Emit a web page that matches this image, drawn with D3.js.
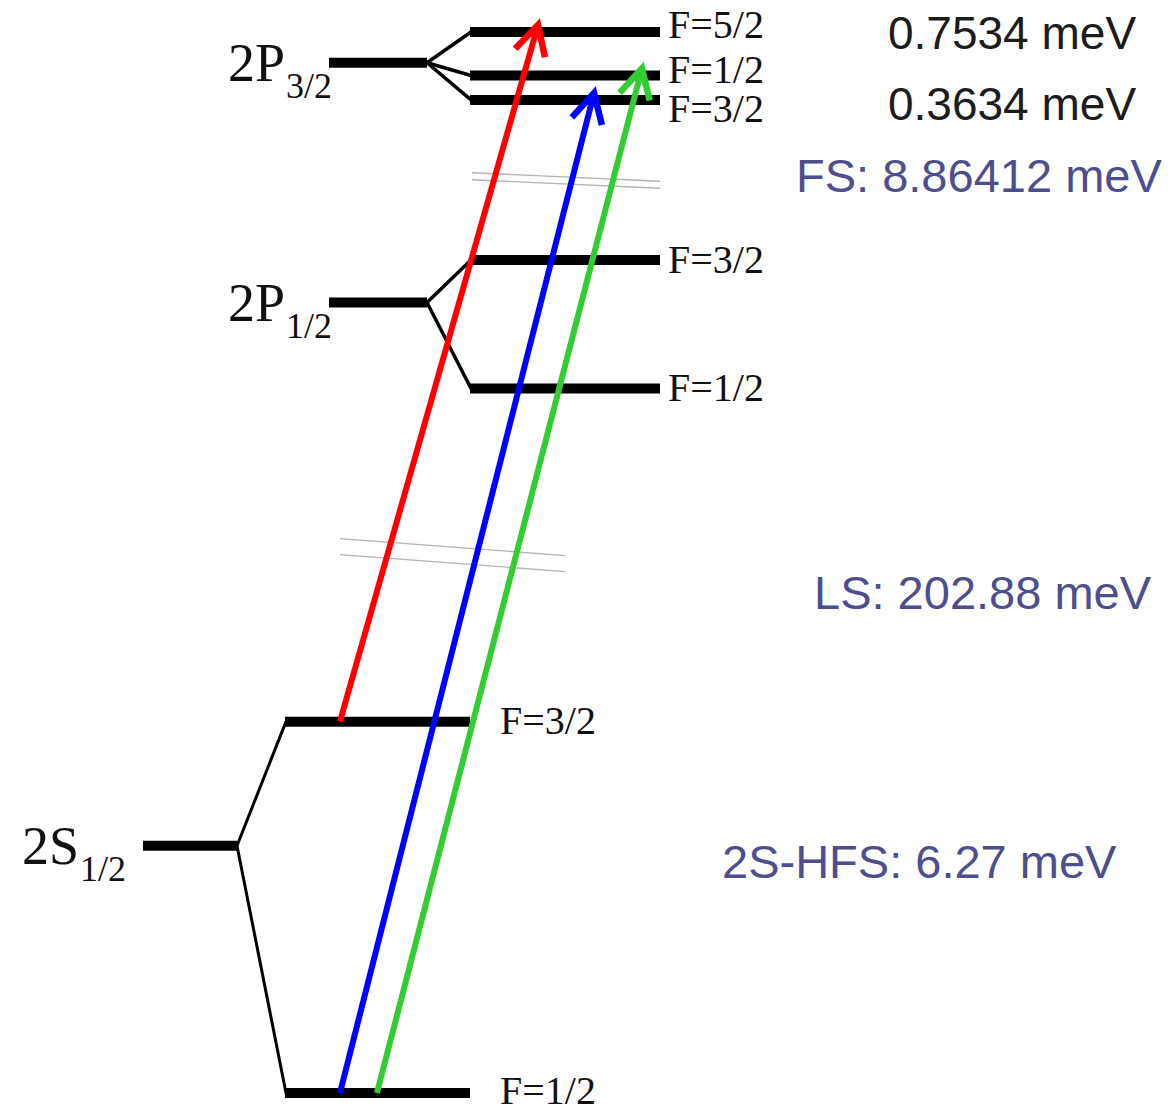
<!DOCTYPE html>
<html>
<head>
<meta charset="utf-8">
<script src="https://cdn.jsdelivr.net/npm/d3@7"></script>
<style>
  html, body { margin: 0; padding: 0; background: #fff; }
  svg { display: block; }
</style>
</head>
<body>
<div id="chart"></div>
<script>
// n = 2 level scheme, heights in schematic diagram units (axis broken twice, not to scale)
const manifolds     = ["2S1/2", "2P1/2", "2P3/2"];
const manifoldTerm  = ["2S", "2P", "2P"];
const manifoldJ     = ["1/2", "1/2", "3/2"];
const manifoldLevel = [233, 745, 971];

// hyperfine sublevels
const hfsManifold = ["2S1/2", "2S1/2", "2P1/2", "2P1/2", "2P3/2", "2P3/2", "2P3/2"];
const hfsF        = ["1/2",   "3/2",   "1/2",   "3/2",   "3/2",   "1/2",   "5/2"];
const hfsLevel    = [0, 350, 664, 785, 936, 959, 1000];

// laser transitions: index of lower sublevel -> index of upper sublevel
const transitionFrom  = [1, 0, 0];
const transitionTo    = [6, 4, 5];
const transitionColor = ["#ff0000", "#0000ff", "#33cc33"];

// splitting annotations
const splitText  = ["0.7534 meV", "0.3634 meV", "FS: 8.86412 meV", "LS: 202.88 meV", "2S-HFS: 6.27 meV"];
const splitColor = ["#1c1c1c", "#1c1c1c", "#4d4d8f", "#4d4d8f", "#4d4d8f"];

// axis breaks, in diagram units
const breakLevel = [860, 507];

// ---------------- layout ----------------
const W = 1168, H = 1112;
const y = d3.scaleLinear().domain([0, 1000]).range([1093, 32]);

const layout = {
  "2S1/2": { labelX: 22,  main: [143, 237], sub: [285, 470], fGap: 30, branchW: 3 },
  "2P1/2": { labelX: 228, main: [329, 427], sub: [470, 660], fGap: 8,  branchW: 3.5 },
  "2P3/2": { labelX: 228, main: [329, 427], sub: [470, 660], fGap: 8,  branchW: 3.5 }
};
// baseline offset of each F label from its level
const fLabelDy = [11, 12, 13, 13, 22.5, 7, 6];
// where each arrow sits along its lower / upper sublevel (fraction of the bar)
const arrowStart = [0.297, 0.297, 0.497];
const arrowEnd   = [0.358, 0.653, 0.905];
const splitPos   = [[888, 49, 46], [888, 120, 46], [796, 192, 47], [814, 609, 47], [722, 878, 47]];
const breakSpec  = [
  { x: [472, 660], tilt: 8.5, gap: 7 },
  { x: [340, 565], tilt: 17,  gap: 16 }
];

const serif = "'Liberation Serif', 'Times New Roman', serif";
const sans  = "'Liberation Sans', Arial, Helvetica, sans-serif";

const svg = d3.select("#chart").append("svg")
  .attr("width", W).attr("height", H)
  .attr("viewBox", `0 0 ${W} ${H}`);

svg.append("rect").attr("width", W).attr("height", H).attr("fill", "#fff");

// ----- axis-break marks (thin grey double lines) -----
const gBreak = svg.append("g").attr("stroke", "#b4b4b4").attr("stroke-width", 1.4).attr("fill", "none");
breakLevel.forEach((lv, i) => {
  const s = breakSpec[i], yc = y(lv);
  [-1, 1].forEach(side => {
    gBreak.append("line")
      .attr("x1", s.x[0]).attr("y1", yc - s.tilt / 2 + side * s.gap / 2)
      .attr("x2", s.x[1]).attr("y2", yc + s.tilt / 2 + side * s.gap / 2);
  });
});

// ----- manifolds: central bar, fork lines and label -----
const gLev = svg.append("g");
manifolds.forEach((m, i) => {
  const L = layout[m], yc = y(manifoldLevel[i]);
  gLev.append("line")
    .attr("x1", L.main[0]).attr("x2", L.main[1])
    .attr("y1", yc).attr("y2", yc)
    .attr("stroke", "#000").attr("stroke-width", 10);

  hfsLevel.forEach((lv, k) => {
    if (hfsManifold[k] !== m) return;
    gLev.append("line")
      .attr("x1", L.main[1]).attr("y1", yc)
      .attr("x2", L.sub[0] + 1).attr("y2", y(lv))
      .attr("stroke", "#000").attr("stroke-width", L.branchW)
      .attr("stroke-linecap", "round");
  });

  const t = gLev.append("text")
    .attr("x", L.labelX).attr("y", yc + 18)
    .attr("font-family", serif).attr("fill", "#111");
  t.append("tspan").attr("font-size", 54).text(manifoldTerm[i]);
  t.append("tspan").attr("font-size", 36).attr("dx", 1).attr("dy", 17).text(manifoldJ[i]);
});

// ----- hyperfine sublevels and F labels -----
hfsLevel.forEach((lv, k) => {
  const L = layout[hfsManifold[k]], yl = y(lv);
  gLev.append("line")
    .attr("x1", L.sub[0]).attr("x2", L.sub[1])
    .attr("y1", yl).attr("y2", yl)
    .attr("stroke", "#000").attr("stroke-width", 10);
  gLev.append("text")
    .attr("x", L.sub[1] + L.fGap).attr("y", yl + fLabelDy[k])
    .attr("font-family", serif).attr("font-size", 40).attr("fill", "#111")
    .text("F=" + hfsF[k]);
});

// ----- transition arrows -----
const gArr = svg.append("g").attr("fill", "none");
transitionFrom.forEach((from, i) => {
  const to = transitionTo[i];
  const Lf = layout[hfsManifold[from]], Lt = layout[hfsManifold[to]];
  const xs0 = d3.scaleLinear().domain([0, 1]).range(Lf.sub);
  const xs1 = d3.scaleLinear().domain([0, 1]).range(Lt.sub);
  const x0 = xs0(arrowStart[i]), y0 = y(hfsLevel[from]);
  const x1 = xs1(arrowEnd[i]),   y1 = y(hfsLevel[to]) - 7;

  const dx = x1 - x0, dy = y1 - y0, len = Math.hypot(dx, dy);
  const ux = dx / len, uy = dy / len;

  gArr.append("line")
    .attr("x1", x0).attr("y1", y0)
    .attr("x2", x1 - ux * 4).attr("y2", y1 - uy * 4)
    .attr("stroke", transitionColor[i]).attr("stroke-width", 6);

  // open chevron head
  const arm = 33, ang = 28 * Math.PI / 180;
  const bx = -ux, by = -uy;
  const rot = a => [bx * Math.cos(a) - by * Math.sin(a), bx * Math.sin(a) + by * Math.cos(a)];
  const [lx, ly] = rot(ang), [rx, ry] = rot(-ang);
  gArr.append("path")
    .attr("d", `M${x1 + lx * arm},${y1 + ly * arm}L${x1},${y1}L${x1 + rx * arm},${y1 + ry * arm}`)
    .attr("stroke", transitionColor[i]).attr("stroke-width", 6.5)
    .attr("stroke-linejoin", "miter").attr("stroke-miterlimit", 10);
});

// ----- splitting annotations -----
svg.append("g").selectAll("text")
  .data(splitText)
  .join("text")
  .attr("x", (d, i) => splitPos[i][0])
  .attr("y", (d, i) => splitPos[i][1])
  .attr("font-size", (d, i) => splitPos[i][2])
  .attr("font-family", sans)
  .attr("fill", (d, i) => splitColor[i])
  .text(d => d);
</script>
</body>
</html>
